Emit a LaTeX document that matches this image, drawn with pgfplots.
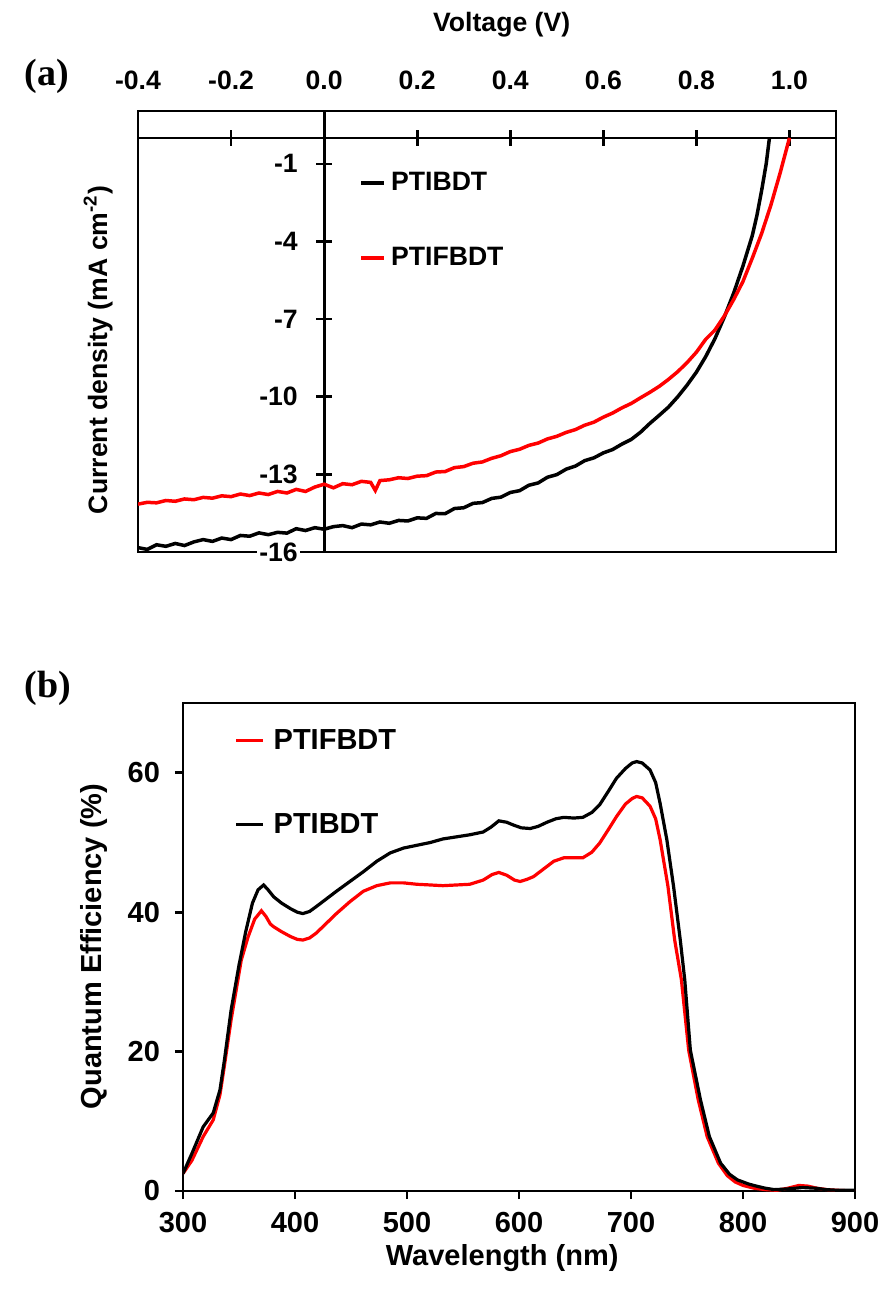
\documentclass[border=0pt]{standalone}
\usepackage{pgfplots}
\pgfplotsset{compat=1.18}
\usepackage{fontspec}
\setmainfont{Liberation Sans}
\newfontfamily\serifbf{Liberation Serif}
\newcommand{\fa}{\fontsize{13.3}{15}\selectfont\bfseries}
\newcommand{\fb}{\fontsize{14.5}{16}\selectfont\bfseries}
\begin{document}
\begin{tikzpicture}
\path[use as bounding box] (0,0) rectangle (441.5pt,-645.5pt);

% ---------- (a) J-V curves ----------
% frame, voltage tick labels on top, axis titles
\begin{axis}[at={(69pt,-276pt)}, anchor=south west, scale only axis,
  width=349pt, height=220.5pt,
  xmin=-0.4, xmax=1.1, ymin=-16, ymax=1.04,
  axis line style={line width=1.4pt},
  xtick={-0.4,-0.2,0,0.2,0.4,0.6,0.8,1.0},
  xticklabels={-0.4,-0.2,0.0,0.2,0.4,0.6,0.8,1.0},
  xticklabel pos=upper,
  ytick=\empty, major tick length=0pt,
  ticklabel style={font=\fa},
  xticklabel style={yshift=7pt},
  xlabel={Voltage (V)},
  xlabel style={at={(axis description cs:0.521,1.195)}, anchor=center, font=\fa},
  ylabel={Current density (mA cm\textsuperscript{-2})},
  ylabel style={at={(axis description cs:-0.057,0.458)}, anchor=center, font=\fa},
]
\end{axis}
% axes crossing at the origin, curves and legend
\begin{axis}[at={(69pt,-276pt)}, anchor=south west, scale only axis,
  width=349pt, height=220.5pt,
  xmin=-0.4, xmax=1.1, ymin=-16, ymax=1.04,
  axis lines=middle,
  axis line style={-, line width=1.4pt},
  inner axis line style={-, line width=1.4pt},
  xtick={-0.2,0.2,0.4,0.6,0.8,1.0}, xticklabels={,,,,,},
  ytick={-16,-13,-10,-7,-4,-1}, yticklabels={-16,-13,-10,-7,-4,-1},
  tick align=center, major tick length=8pt,
  tick style={line width=1.3pt, black},
  yticklabel style={font=\fa, fill=white, inner sep=1pt, xshift=-8pt},
  legend style={draw=none, fill=none, at={(axis description cs:0.317,0.871)},
    anchor=north west, row sep=23pt, font=\fa, inner sep=0pt},
  legend cell align=left,
  legend image code/.code={\draw[#1] (0pt,0pt) -- (11.5pt,0pt); \path (12pt,0pt);},
]
\addplot[black, line width=1.75pt] coordinates {
(-0.40,-15.83) (-0.38,-15.90) (-0.36,-15.72) (-0.34,-15.78) (-0.32,-15.67)
(-0.30,-15.75) (-0.28,-15.61) (-0.26,-15.52) (-0.24,-15.59) (-0.22,-15.46)
(-0.20,-15.52) (-0.18,-15.36) (-0.16,-15.39) (-0.14,-15.26) (-0.12,-15.33)
(-0.10,-15.24) (-0.08,-15.27) (-0.06,-15.10) (-0.04,-15.17) (-0.02,-15.06)
(0.00,-15.12) (0.02,-15.02) (0.04,-14.98) (0.06,-15.06) (0.08,-14.92)
(0.10,-14.95) (0.12,-14.84) (0.14,-14.89) (0.16,-14.78) (0.18,-14.80)
(0.20,-14.68) (0.22,-14.70) (0.24,-14.51) (0.26,-14.52) (0.28,-14.32)
(0.30,-14.29) (0.32,-14.12) (0.34,-14.09) (0.36,-13.93) (0.38,-13.88)
(0.40,-13.70) (0.42,-13.63) (0.44,-13.42) (0.46,-13.33) (0.48,-13.11)
(0.50,-13.01) (0.52,-12.80) (0.54,-12.68) (0.56,-12.47) (0.58,-12.36)
(0.60,-12.17) (0.62,-12.04) (0.64,-11.83) (0.66,-11.65) (0.68,-11.37)
(0.70,-11.03) (0.72,-10.72) (0.74,-10.40) (0.76,-10.00) (0.78,-9.55)
(0.80,-9.05) (0.82,-8.45) (0.84,-7.75) (0.86,-6.92) (0.88,-6.00)
(0.90,-4.95) (0.92,-3.78) (0.93,-3.00) (0.94,-2.05) (0.95,-1.00) (0.957,0.00)
};
\addlegendentry{PTIBDT}
\addplot[red, line width=1.75pt] coordinates {
(-0.40,-14.15) (-0.38,-14.08) (-0.36,-14.10) (-0.34,-14.01) (-0.32,-14.04)
(-0.30,-13.95) (-0.28,-13.98) (-0.26,-13.89) (-0.24,-13.92) (-0.22,-13.83)
(-0.20,-13.86) (-0.18,-13.76) (-0.16,-13.82) (-0.14,-13.72) (-0.12,-13.78)
(-0.10,-13.66) (-0.08,-13.72) (-0.06,-13.58) (-0.04,-13.66) (-0.02,-13.49)
(0.00,-13.38) (0.02,-13.52) (0.04,-13.36) (0.06,-13.40) (0.08,-13.27)
(0.10,-13.31) (0.11,-13.62) (0.12,-13.24) (0.14,-13.21) (0.16,-13.13)
(0.18,-13.16) (0.20,-13.07) (0.22,-13.05) (0.24,-12.91) (0.26,-12.89)
(0.28,-12.74) (0.30,-12.70) (0.32,-12.57) (0.34,-12.52) (0.36,-12.38)
(0.38,-12.28) (0.40,-12.12) (0.42,-12.03) (0.44,-11.88) (0.46,-11.79)
(0.48,-11.63) (0.50,-11.53) (0.52,-11.38) (0.54,-11.27) (0.56,-11.10)
(0.58,-10.98) (0.60,-10.79) (0.62,-10.63) (0.64,-10.43) (0.66,-10.26)
(0.68,-10.04) (0.70,-9.83) (0.72,-9.60) (0.74,-9.33) (0.76,-9.03)
(0.78,-8.68) (0.80,-8.28) (0.82,-7.78) (0.84,-7.42) (0.86,-6.88)
(0.88,-6.25) (0.90,-5.55) (0.92,-4.65) (0.94,-3.70) (0.96,-2.60)
(0.98,-1.35) (1.00,0.00)
};
\addlegendentry{PTIFBDT}
\end{axis}

% ---------- (b) EQE spectra ----------
\begin{axis}[at={(91.5pt,-595.5pt)}, anchor=south west, scale only axis,
  width=336pt, height=244pt,
  xmin=300, xmax=900, ymin=0, ymax=70,
  xtick={300,400,...,900}, ytick={0,20,40,60},
  tick align=outside, xtick pos=lower, ytick pos=left, major tick length=4pt,
  axis line style={line width=1.4pt}, tick style={line width=1.4pt, black},
  /pgf/number format/assume math mode=true,
  ticklabel style={font=\fb},
  xticklabel style={yshift=-3pt},
  yticklabel style={xshift=-4pt},
  xlabel={Wavelength (nm)},
  xlabel style={at={(axis description cs:0.475,-0.138)}, anchor=center, font=\fb},
  ylabel={Quantum Efficiency (\%)},
  ylabel style={at={(axis description cs:-0.1324,0.501)}, anchor=center, font=\fb},
  legend style={draw=none, fill=none, at={(axis description cs:0.076,0.955)},
    anchor=north west, row sep=26.5pt, font=\fb, inner sep=0pt},
  legend cell align=left,
  legend image code/.code={\draw[#1] (0pt,0pt) -- (13.5pt,0pt); \path (16pt,0pt);},
]
\addplot[red, line width=1.6pt] coordinates {
(300,2.5) (308,4.4) (318,7.8) (327,10.2) (333,13.8) (337,18.0) (343,24.6)
(352,33.1) (358,36.4) (364,39.0) (370,40.2) (374,39.4) (378,38.3) (381,37.9)
(388,37.2) (396,36.5) (402,36.1) (407,36.0) (413,36.3) (419,37.0) (428,38.4)
(437,39.8) (449,41.5) (461,43.0) (473,43.8) (485,44.2) (497,44.2) (509,44.0)
(521,43.9) (532,43.8) (544,43.9) (556,44.0) (568,44.6) (576,45.4) (582,45.7)
(589,45.3) (596,44.6) (601,44.4) (607,44.7) (613,45.1) (622,46.2) (631,47.3)
(640,47.8) (649,47.8) (657,47.8) (665,48.6) (672,49.9) (680,51.9) (687,53.7)
(695,55.5) (701,56.3) (705,56.6) (710,56.4) (717,55.2) (722,53.4) (726,50.4)
(733,43.7) (739,36.0) (745,30.3) (751.5,20.2) (760,13.1) (768,7.8) (778,4.0)
(786,2.2) (793,1.3) (800,0.8) (810,0.4) (820,0.2) (830,0.1) (840,0.4)
(850,0.8) (858,0.7) (866,0.4) (875,0.2) (885,0.1) (900,0.0)
};
\addlegendentry{PTIFBDT}
\addplot[black, line width=1.6pt] coordinates {
(300,2.5) (308,5.4) (318,9.2) (327,11.2) (333,14.5) (337,18.8) (343,26.0)
(350,32.4) (356,37.2) (362,41.3) (367,43.2) (372,43.9) (376,43.2) (381,42.2)
(388,41.3) (396,40.5) (402,40.0) (407,39.8) (413,40.1) (419,40.8) (428,41.9)
(437,43.0) (449,44.4) (461,45.8) (473,47.3) (485,48.5) (497,49.2) (509,49.6)
(521,50.0) (532,50.5) (544,50.8) (556,51.1) (568,51.5) (575,52.2) (582,53.1)
(589,52.9) (595,52.5) (602,52.1) (610,52.0) (617,52.3) (625,52.9) (633,53.4)
(640,53.6) (649,53.5) (657,53.6) (665,54.3) (672,55.4) (680,57.4) (687,59.2)
(695,60.6) (701,61.4) (705,61.6) (710,61.4) (717,60.4) (722,58.6) (726,55.6)
(732,50.4) (738,43.7) (744,36.0) (748,30.3) (753,20.2) (762,13.1) (770,7.8)
(780,4.0) (788,2.4) (795,1.6) (805,1.0) (812,0.7) (820,0.4) (828,0.2)
(840,0.3) (853,0.5) (865,0.4) (874,0.2) (885,0.1) (900,0.1)
};
\addlegendentry{PTIBDT}
\end{axis}

% panel letters
\node[font=\serifbf\fontsize{19}{21}\selectfont\bfseries] at (23.5pt,-38pt) {(a)};
\node[font=\serifbf\fontsize{19}{21}\selectfont\bfseries] at (24pt,-344pt) {(b)};
\end{tikzpicture}
\end{document}
